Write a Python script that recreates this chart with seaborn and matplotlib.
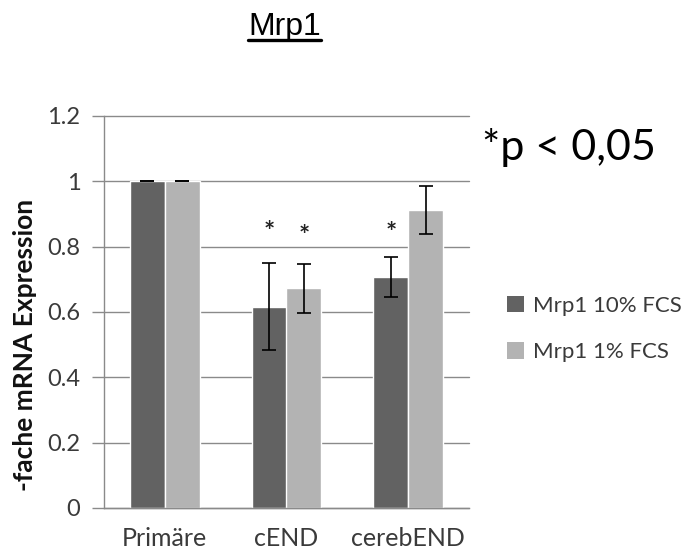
import pandas as pd
import matplotlib
matplotlib.use("Agg")
import matplotlib.pyplot as plt
from matplotlib.lines import Line2D
from matplotlib.patches import Patch
import seaborn as sns

# Daten
categories = ["Primäre", "cEND", "cerebEND"]
series = ["Mrp1 10% FCS", "Mrp1 1% FCS"]
vals_10 = [1.0, 0.616, 0.706]
vals_1 = [1.0, 0.672, 0.912]
err_10 = [0.0, 0.133, 0.061]
err_1 = [0.0, 0.075, 0.074]
# Sternchen (Signifikanz) ueber den Balken
star_10 = [None, 0.846, 0.843]
star_1 = [None, 0.833, None]
yticks = [0, 0.2, 0.4, 0.6, 0.8, 1, 1.2]
yticklabels = ["0", "0.2", "0.4", "0.6", "0.8", "1", "1.2"]

df = pd.DataFrame({
    "cat": categories * 2,
    "series": [series[0]] * 3 + [series[1]] * 3,
    "val": vals_10 + vals_1,
})

colors = ["#626262", "#b3b3b3"]
grid_col = "#8a8a8a"
txt_col = "#3a3a3a"

sns.set_theme(style="white")
plt.rcParams["font.family"] = ["Lato", "DejaVu Sans"]

fig = plt.figure(figsize=(6.93, 5.57), dpi=100)
ax = fig.add_axes([104 / 693, 1 - 508 / 557, (469 - 104) / 693, (508 - 116) / 557])

sns.barplot(data=df, x="cat", y="val", hue="series", order=categories,
            hue_order=series, palette=colors, width=0.57, errorbar=None,
            saturation=1, ax=ax, legend=False)

# Fehlerbalken und Sternchen an die Balkenmitten
bars = [p for p in ax.patches if p.get_height() > 0]
xs10 = [b.get_x() + b.get_width() / 2 for b in bars[:3]]
xs1 = [b.get_x() + b.get_width() / 2 for b in bars[3:6]]
for xs, v, e in [(xs10, vals_10, err_10), (xs1, vals_1, err_1)]:
    ax.errorbar(xs, v, yerr=e, fmt="none", ecolor="black", elinewidth=1.2,
                capsize=5, capthick=1.2, zorder=5)
for xs, st in [(xs10, star_10), (xs1, star_1)]:
    for x, s in zip(xs, st):
        if s is not None:
            ax.text(x, s, "*", ha="center", va="center", fontsize=19,
                    fontweight="bold", color="#222222")

ax.set_ylim(0, 1.2)
ax.set_xlim(-0.5, 2.5)
ax.set_yticks(yticks)
ax.set_yticklabels(yticklabels, fontsize=17, color=txt_col)
for y in yticks:
    ax.axhline(y, color=grid_col, lw=1, zorder=0, clip_on=False)
ax.set_axisbelow(True)

ax.set_xticks(range(3))
ax.set_xticklabels(categories, fontsize=18, color=txt_col)
ax.tick_params(axis="x", which="major", length=0, pad=14)
ax.set_xticks([-0.5, 0.5, 1.5, 2.5], minor=True)
ax.tick_params(axis="x", which="minor", length=7, color=grid_col, width=1)
ax.tick_params(axis="y", length=9, color=grid_col, width=1, pad=8, left=True)
ax.set_xlabel("")
ax.set_ylabel("")

for side in ["top", "right"]:
    ax.spines[side].set_visible(False)
for side in ["left", "bottom"]:
    ax.spines[side].set_color(grid_col)
    ax.spines[side].set_linewidth(1)

fig.text(0.036, 1 - 345 / 557, "-fache mRNA Expression", rotation=90, ha="center",
         va="center", fontsize=19, fontweight="bold", color="#111111")

# Titel mit Unterstrich
title = fig.text(0.411, 1 - 35 / 557, "Mrp1", ha="center", va="baseline",
                 fontsize=23, family="Liberation Sans", color="black")
fig.canvas.draw()
bb = title.get_window_extent().transformed(fig.transFigure.inverted())
fig.add_artist(Line2D([bb.x0, bb.x1], [1 - 40 / 557] * 2, color="black",
                      lw=2.4, transform=fig.transFigure))

fig.text(482 / 693, 1 - 160 / 557, "*p < 0,05", ha="left", va="baseline",
         fontsize=31, color="black")

handles = [Patch(facecolor=c, edgecolor="none") for c in colors]
fig.legend(handles, series, loc="center left",
           bbox_to_anchor=(507 / 693, 1 - 329 / 557), frameon=False,
           borderpad=0, borderaxespad=0,
           fontsize=16, handlelength=0.75, handleheight=0.75,
           handletextpad=0.4, labelspacing=1.2, labelcolor=txt_col)

fig.savefig("out.png", dpi=100)
